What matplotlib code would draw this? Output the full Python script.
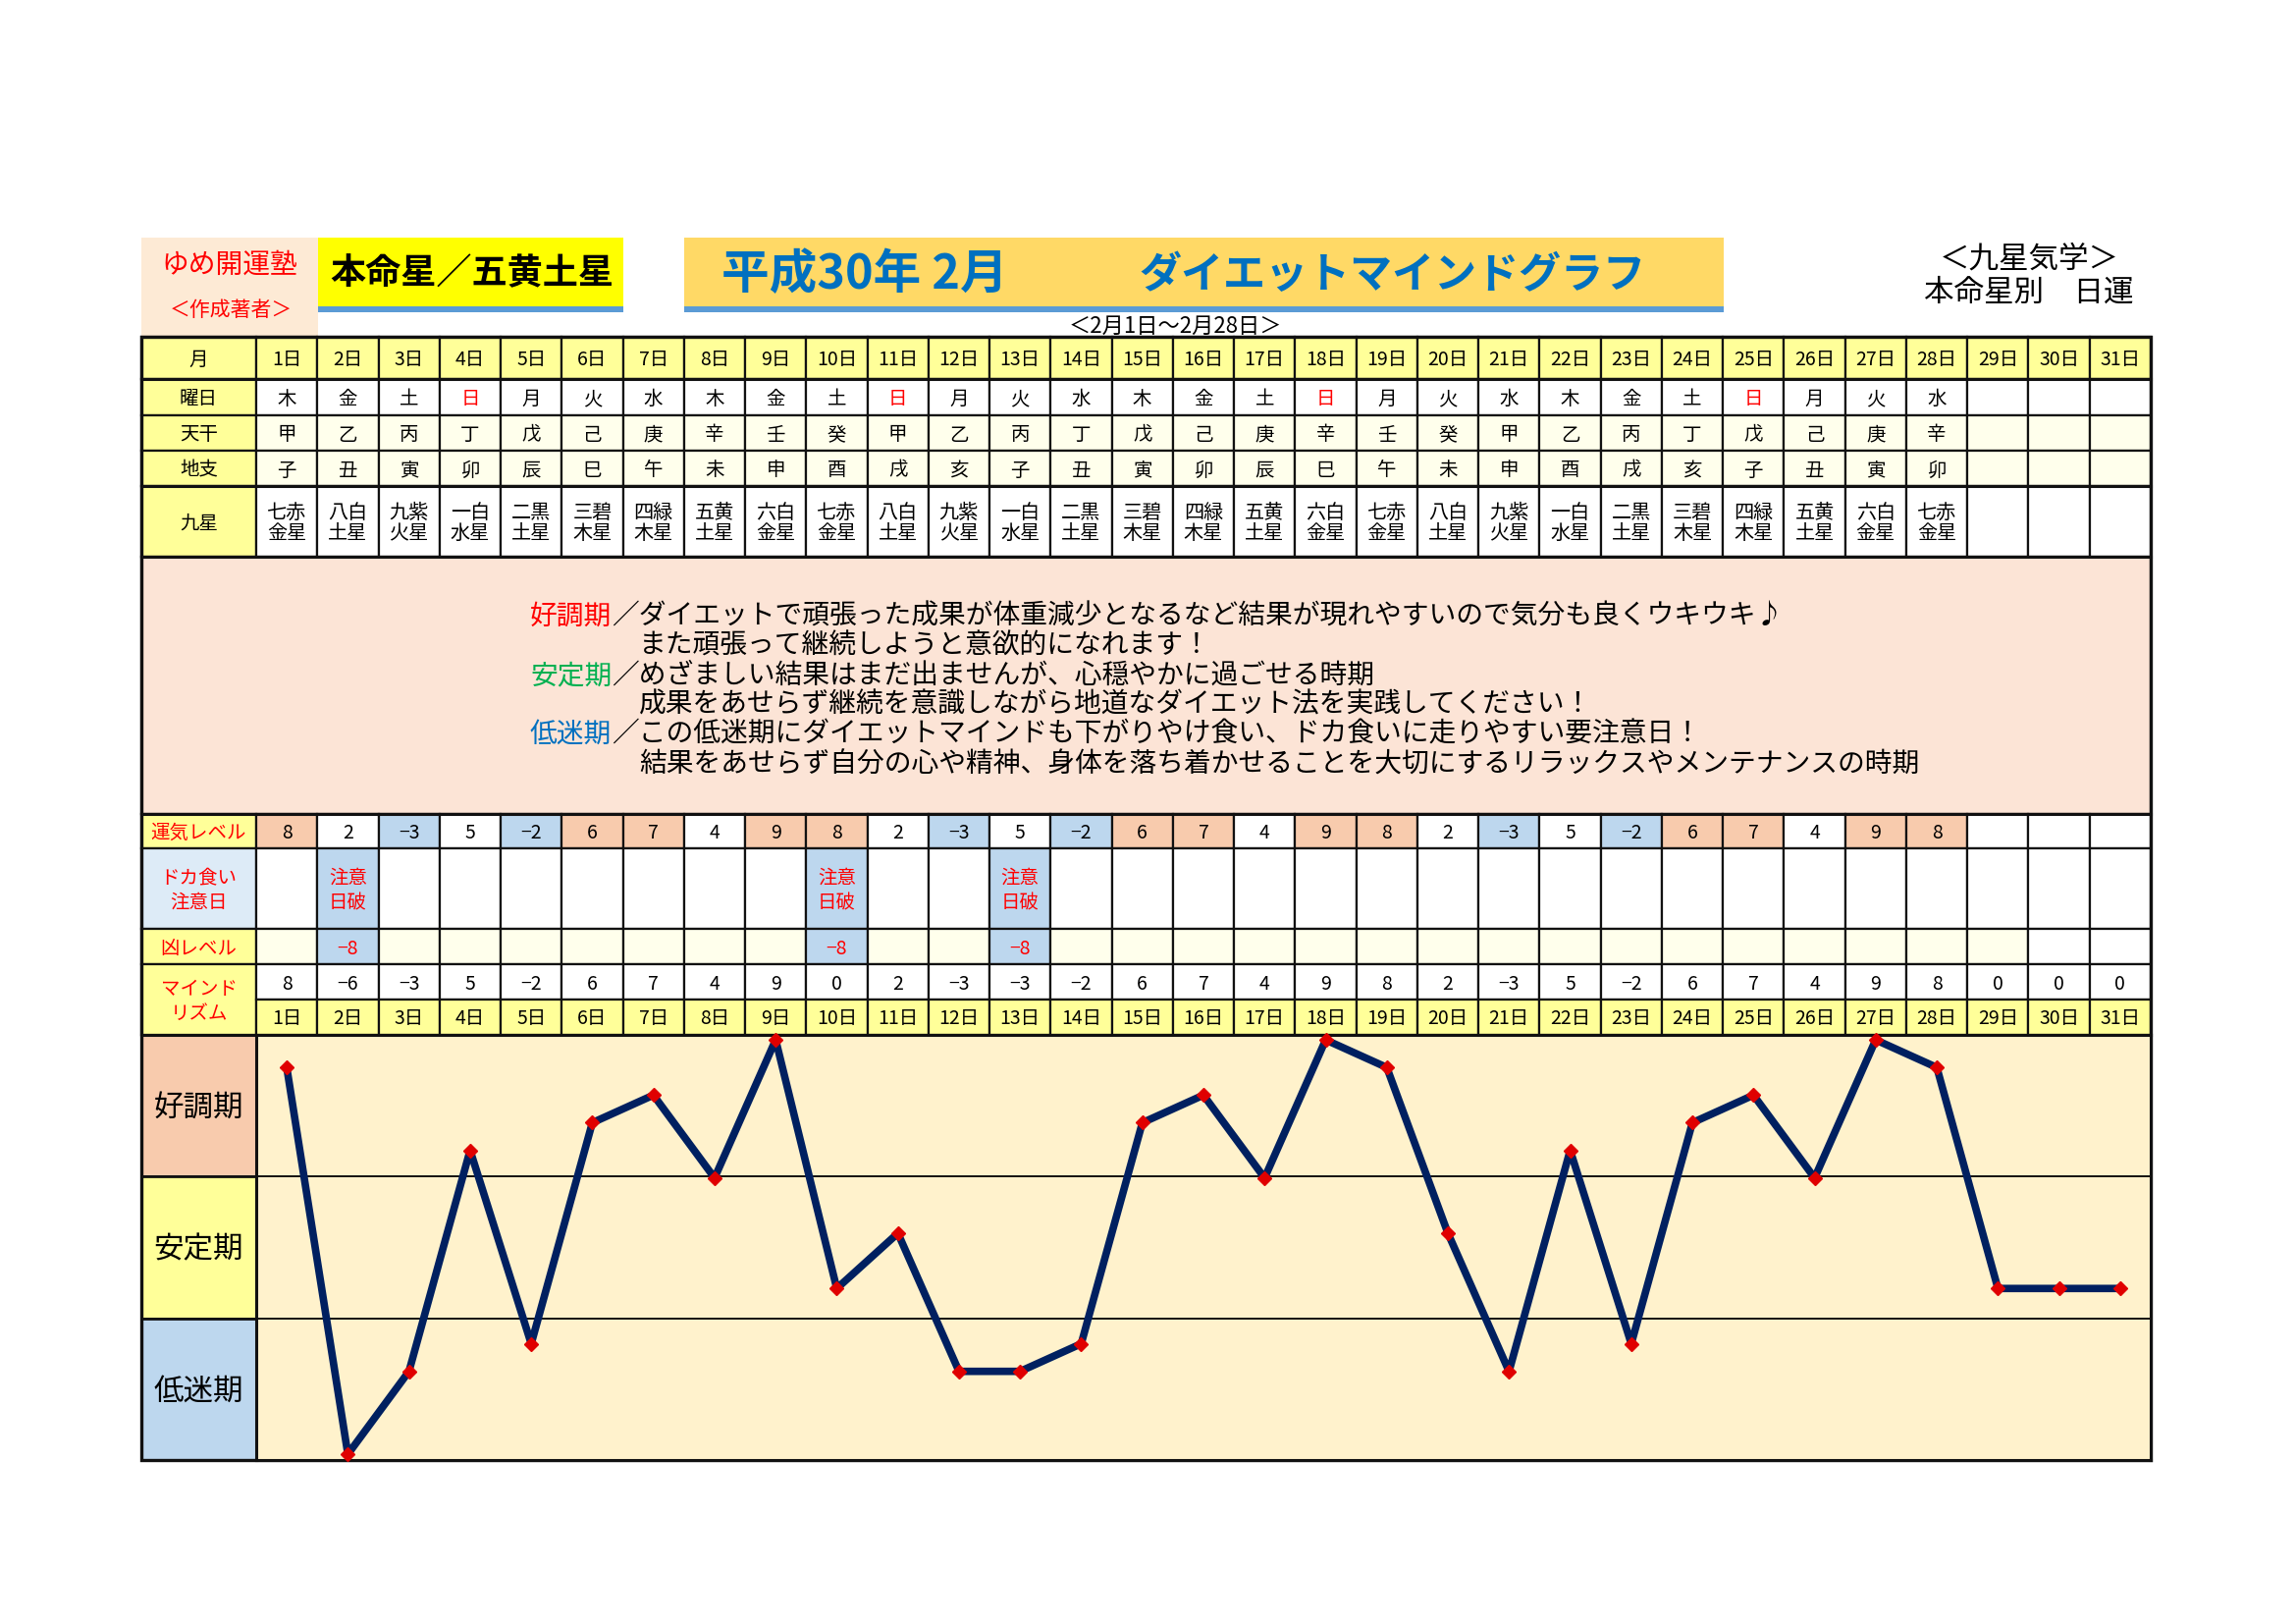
import matplotlib
matplotlib.use('Agg')
import matplotlib.pyplot as plt
from matplotlib.patches import Rectangle

plt.rcParams['font.family'] = ['Noto Sans CJK JP', 'DejaVu Sans']

# ---------------- data ----------------
day_labels = ['1日', '2日', '3日', '4日', '5日', '6日', '7日', '8日', '9日', '10日',
              '11日', '12日', '13日', '14日', '15日', '16日', '17日', '18日', '19日', '20日',
              '21日', '22日', '23日', '24日', '25日', '26日', '27日', '28日', '29日', '30日', '31日']
weekdays = ['木', '金', '土', '日', '月', '火', '水', '木', '金', '土', '日', '月', '火', '水',
            '木', '金', '土', '日', '月', '火', '水', '木', '金', '土', '日', '月', '火', '水']
tenkan = ['甲', '乙', '丙', '丁', '戊', '己', '庚', '辛', '壬', '癸', '甲', '乙', '丙', '丁',
          '戊', '己', '庚', '辛', '壬', '癸', '甲', '乙', '丙', '丁', '戊', '己', '庚', '辛']
chishi = ['子', '丑', '寅', '卯', '辰', '巳', '午', '未', '申', '酉', '戌', '亥', '子', '丑',
          '寅', '卯', '辰', '巳', '午', '未', '申', '酉', '戌', '亥', '子', '丑', '寅', '卯']
kyusei = ['七赤\n金星', '八白\n土星', '九紫\n火星', '一白\n水星', '二黒\n土星', '三碧\n木星', '四緑\n木星',
          '五黄\n土星', '六白\n金星', '七赤\n金星', '八白\n土星', '九紫\n火星', '一白\n水星', '二黒\n土星',
          '三碧\n木星', '四緑\n木星', '五黄\n土星', '六白\n金星', '七赤\n金星', '八白\n土星', '九紫\n火星',
          '一白\n水星', '二黒\n土星', '三碧\n木星', '四緑\n木星', '五黄\n土星', '六白\n金星', '七赤\n金星']
unki_level = [8, 2, -3, 5, -2, 6, 7, 4, 9, 8, 2, -3, 5, -2, 6, 7, 4, 9, 8, 2, -3, 5, -2, 6, 7, 4, 9, 8]
caution_days = [2, 10, 13]
caution_text = '注意\n日破'
kyou_level = [-8, -8, -8]
mind_rhythm = [8, -6, -3, 5, -2, 6, 7, 4, 9, 0, 2, -3, -3, -2, 6, 7, 4, 9, 8, 2, -3, 5, -2, 6, 7, 4, 9, 8, 0, 0, 0]
phase_labels = ['好調期', '安定期', '低迷期']

desc_lines = [
    ('好調期', '#FF0000', '／ダイエットで頑張った成果が体重減少となるなど結果が現れやすいので気分も良くウキウキ♪'),
    (None, None, 'また頑張って継続しようと意欲的になれます！'),
    ('安定期', '#00B050', '／めざましい結果はまだ出ませんが、心穏やかに過ごせる時期'),
    (None, None, '成果をあせらず継続を意識しながら地道なダイエット法を実践してください！'),
    ('低迷期', '#0070C0', '／この低迷期にダイエットマインドも下がりやけ食い、ドカ食いに走りやすい要注意日！'),
    (None, None, '結果をあせらず自分の心や精神、身体を落ち着かせることを大切にするリラックスやメンテナンスの時期'),
]

# ---------------- layout ----------------
W, H = 2339, 1654
fig = plt.figure(figsize=(W / 100, H / 100), dpi=100)
bg = fig.add_axes([0, 0, 1, 1])
bg.set_xlim(0, W)
bg.set_ylim(H, 0)
bg.axis('off')

X0, XL, XR = 144, 261, 2191
NCOL = 31
CW = (XR - XL) / NCOL

YELLOW = '#FFFF99'
CREAM = '#FFFFEC'
PEACH = '#F8CBAD'
LBLUE = '#BDD7EE'
PALEBLUE = '#DDEBF7'
EDGE = '#111111'
DY = 2  # small optical offset for CJK text centring


def rect(x0, y0, x1, y1, fc, ec=EDGE, lw=1.6, z=1):
    bg.add_patch(Rectangle((x0, y0), x1 - x0, y1 - y0, facecolor=fc, edgecolor=ec,
                           linewidth=lw, zorder=z))


def txt(x, y, s, size, color='black', ha='center', weight='normal', ls=1.15, z=5):
    bg.text(x, y + DY, s, fontsize=size, color=color, ha=ha, va='center', fontweight=weight,
            linespacing=ls, zorder=z)


def colx(i):
    return XL + i * CW


# ---------------- header ----------------
rect(X0, 242, 324, 343, '#FDEAD5', ec='none', z=0)
rect(324, 242, 635, 312, '#FFFF00', ec='none')
rect(324, 312, 635, 318, '#5B9BD5', ec='none')
rect(697, 242, 1756, 312, '#FFD966', ec='none')
rect(697, 312, 1756, 318, '#5B9BD5', ec='none')

txt(234, 268, 'ゆめ開運塾', 20, color='#FF0000')
txt(235, 314, '＜作成著者＞', 15, color='#FF0000')
txt(481, 277, '本命星／五黄土星', 26, weight='bold')
txt(735, 278, '平成30年 2月', 35, color='#0070C0', ha='left', weight='bold')
txt(1160, 278, 'ダイエットマインドグラフ', 31, color='#0070C0', ha='left', weight='bold')
txt(2067, 262, '＜九星気学＞', 22)
txt(2067, 296, '本命星別　日運', 22)
txt(1197, 330, '＜2月1日～2月28日＞', 16)

# ---------------- upper table ----------------
rows = {
    'month': (343, 386), 'week': (386, 423), 'kan': (423, 459), 'shi': (459, 495),
    'star': (495, 567), 'desc': (567, 829), 'unki': (829, 864), 'doka': (864, 946),
    'kyou': (946, 982), 'mind': (982, 1018), 'date': (1018, 1054),
}
FS = 14

for key, lab in [('month', '月'), ('week', '曜日'), ('kan', '天干'), ('shi', '地支'), ('star', '九星')]:
    y0, y1 = rows[key]
    rect(X0, y0, XL, y1, YELLOW)
    txt((X0 + XL) / 2, (y0 + y1) / 2, lab, FS)

for i in range(NCOL):
    x0, x1 = colx(i), colx(i + 1)
    xc = (x0 + x1) / 2
    # month header
    y0, y1 = rows['month']
    rect(x0, y0, x1, y1, YELLOW)
    txt(xc, (y0 + y1) / 2, day_labels[i], FS)
    # weekday
    y0, y1 = rows['week']
    rect(x0, y0, x1, y1, 'white')
    if i < len(weekdays):
        txt(xc, (y0 + y1) / 2, weekdays[i], FS, color='#FF0000' if weekdays[i] == '日' else 'black')
    # tenkan
    y0, y1 = rows['kan']
    rect(x0, y0, x1, y1, CREAM)
    if i < len(tenkan):
        txt(xc, (y0 + y1) / 2, tenkan[i], FS)
    # chishi
    y0, y1 = rows['shi']
    rect(x0, y0, x1, y1, CREAM)
    if i < len(chishi):
        txt(xc, (y0 + y1) / 2, chishi[i], FS)
    # kyusei
    y0, y1 = rows['star']
    rect(x0, y0, x1, y1, 'white')
    if i < len(kyusei):
        txt(xc, (y0 + y1) / 2, kyusei[i], 14.5, ls=1.05)

# description area
y0, y1 = rows['desc']
rect(X0, y0, XR, y1, '#FCE4D6')
DFS = 20
EM = DFS * 100 / 72
DX = 540
line_y = [626, 656, 686, 716, 746, 777]
for (lab, col, rest), yy in zip(desc_lines, line_y):
    if lab is not None:
        txt(DX, yy, lab, DFS, color=col, ha='left')
        txt(DX + 3 * EM, yy, rest, DFS, ha='left')
    else:
        txt(DX + 4 * EM, yy, rest, DFS, ha='left')

# ---------------- lower table ----------------
y0, y1 = rows['unki']
rect(X0, y0, XL, y1, YELLOW)
txt((X0 + XL) / 2, (y0 + y1) / 2, '運気レベル', FS, color='#FF0000')
y0, y1 = rows['doka']
rect(X0, y0, XL, y1, PALEBLUE)
txt((X0 + XL) / 2, (y0 + y1) / 2, 'ドカ食い\n注意日', FS, color='#FF0000', ls=1.25)
y0, y1 = rows['kyou']
rect(X0, y0, XL, y1, YELLOW)
txt((X0 + XL) / 2, (y0 + y1) / 2, '凶レベル', FS, color='#FF0000')
ym0, ym1 = rows['mind'][0], rows['date'][1]
rect(X0, ym0, XL, ym1, YELLOW)
txt((X0 + XL) / 2, (ym0 + ym1) / 2, 'マインド\nリズム', FS, color='#FF0000', ls=1.3)

for i in range(NCOL):
    x0, x1 = colx(i), colx(i + 1)
    xc = (x0 + x1) / 2
    day = i + 1
    # unki level
    y0, y1 = rows['unki']
    fc = 'white'
    if i < len(unki_level):
        v = unki_level[i]
        fc = PEACH if v >= 6 else (LBLUE if v < 0 else 'white')
    rect(x0, y0, x1, y1, fc)
    if i < len(unki_level):
        txt(xc, (y0 + y1) / 2, str(unki_level[i]).replace('-', '−'), FS)
    # doka
    y0, y1 = rows['doka']
    isc = day in caution_days
    rect(x0, y0, x1, y1, LBLUE if isc else 'white')
    if isc:
        txt(xc, (y0 + y1) / 2, caution_text, FS, color='#FF0000', ls=1.25)
    # kyou
    y0, y1 = rows['kyou']
    rect(x0, y0, x1, y1, LBLUE if isc else (CREAM if i < 29 else 'white'))
    if isc:
        k = kyou_level[caution_days.index(day)]
        txt(xc, (y0 + y1) / 2, str(k).replace('-', '−'), FS, color='#FF0000')
    # mind value
    y0, y1 = rows['mind']
    rect(x0, y0, x1, y1, 'white')
    txt(xc, (y0 + y1) / 2, str(mind_rhythm[i]).replace('-', '−'), FS)
    # date row
    y0, y1 = rows['date']
    rect(x0, y0, x1, y1, YELLOW)
    txt(xc, (y0 + y1) / 2, day_labels[i], FS)

# ---------------- chart ----------------
CT, CB = 1054, 1487
ax = fig.add_axes([XL / W, (H - CB) / H, (XR - XL) / W, (CB - CT) / H])
ax.set_facecolor('#FFF2CC')
xs = list(range(1, NCOL + 1))
ax.plot(xs, mind_rhythm, color='#002060', linewidth=5.5, solid_joinstyle='round',
        solid_capstyle='round', zorder=3)
ax.plot(xs, mind_rhythm, linestyle='none', marker='D', markersize=7,
        markerfacecolor='#E00000', markeredgecolor='#E00000', zorder=4, clip_on=False)
ax.set_xlim(0.5, NCOL + 0.5)
ylo, yhi = -6.21, 9.18
ax.set_ylim(ylo, yhi)
third = (yhi - ylo) / 3
ax.axhline(ylo + third, color='black', linewidth=1.3, zorder=2)
ax.axhline(ylo + 2 * third, color='black', linewidth=1.3, zorder=2)
ax.set_xticks([])
ax.set_yticks([])
for s in ax.spines.values():
    s.set_linewidth(2.2)
    s.set_color(EDGE)

# phase label cells
ph_cols = [PEACH, YELLOW, LBLUE]
ch = (CB - CT) / 3
for j, (lab, fc) in enumerate(zip(phase_labels, ph_cols)):
    y0 = CT + j * ch
    rect(X0, y0, XL, y0 + ch, fc, lw=2)
    txt((X0 + XL) / 2, y0 + ch / 2, lab, 22)

# outer borders
bg.add_patch(Rectangle((X0, 343), XR - X0, CB - 343, facecolor='none', edgecolor=EDGE,
                       linewidth=2.4, zorder=6))
for yb in [386, 495, 567, 829, 1054]:
    bg.plot([X0, XR], [yb, yb], color=EDGE, linewidth=2.2, zorder=6)

fig.savefig('out.png', dpi=100)
